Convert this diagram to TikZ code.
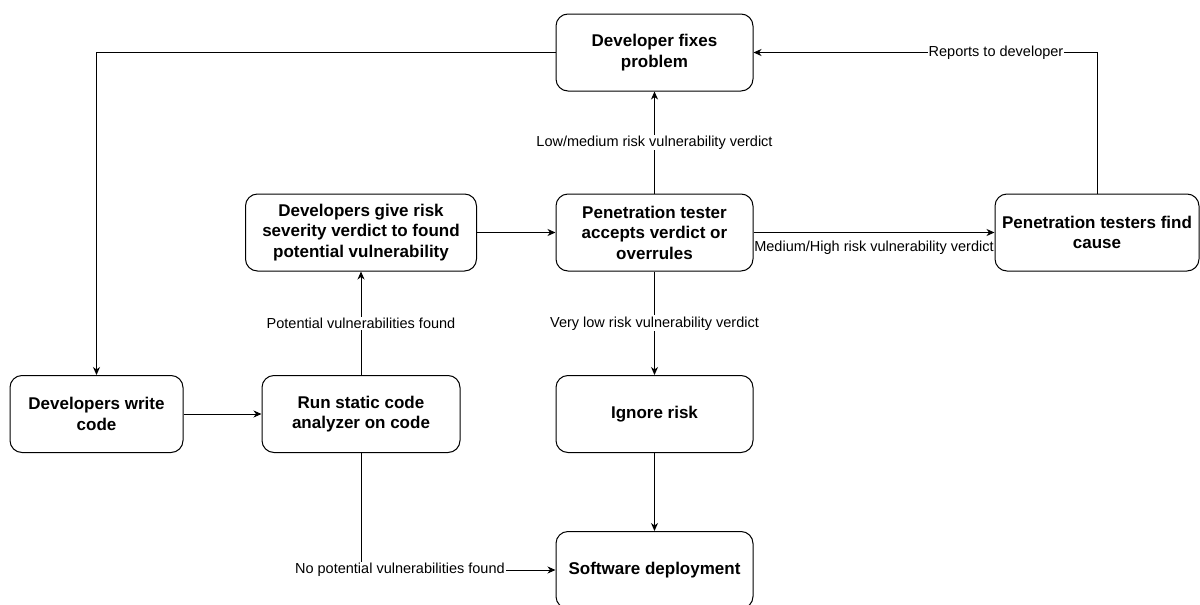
\documentclass[tikz,border=0pt]{standalone}
\usepackage{fontspec}
\setmainfont{Liberation Sans}
\usetikzlibrary{arrows.meta}

\begin{document}
\begin{tikzpicture}[x=1pt,y=-1pt,
  box/.style={draw, rounded corners=12pt, line width=1pt, align=center,
    minimum width=197pt, minimum height=77pt, inner sep=2pt,
    font=\fontsize{17}{20.5}\selectfont\bfseries},
  lbl/.style={fill=white, inner sep=1pt, font=\fontsize{14.5}{17}\selectfont},
  flow/.style={line width=1pt, -{Stealth[length=8pt,width=7pt,inset=2.5pt]}}]
\def\colA{96.5}
\def\colB{361}
\def\colC{654.5}
\def\colD{1097}

\useasboundingbox (0,0) rectangle (1200,605);

% Process boxes
\node[box] (fix) at (\colC,52.5) {Developer fixes\\problem};
\node[box, minimum width=231pt] (give) at (\colB,232.5) {Developers give risk\\severity verdict to found\\potential vulnerability};
\node[box] (pen) at (\colC,232.5) {Penetration tester\\accepts verdict or\\overrules};
\node[box, minimum width=204pt] (find) at (\colD,232.5) {Penetration testers find\\cause};
\node[box, minimum width=173pt] (write) at (\colA,414) {Developers write\\code};
\node[box, minimum width=198pt] (run) at (\colB,414) {Run static code\\analyzer on code};
\node[box] (ignore) at (\colC,414) {Ignore risk};
\node[box] (deploy) at (\colC,570) {Software deployment};

% Connectors
\draw[flow] (write) -- (run);
\draw[flow] (run) -- node[lbl] {Potential vulnerabilities found} (give);
\draw[flow] (give) -- (pen);
\draw[flow] (pen) -- node[lbl] {Low/medium risk vulnerability verdict} (fix);
\draw[flow] (pen) -- node[below=7pt, inner sep=1pt, font=\fontsize{14.5}{17}\selectfont] {Medium/High risk vulnerability verdict} (find);
\draw[flow] (find.north) |- node[lbl, pos=0.647] {Reports to developer} (fix.east);
\draw[flow] (fix.west) -| (write.north);
\draw[flow] (pen) -- node[lbl] {Very low risk vulnerability verdict} (ignore);
\draw[flow] (ignore) -- (deploy);
\draw[flow] (run.south) |- node[lbl, pos=0.6] {No potential vulnerabilities found} (deploy.west);
\end{tikzpicture}
\end{document}
